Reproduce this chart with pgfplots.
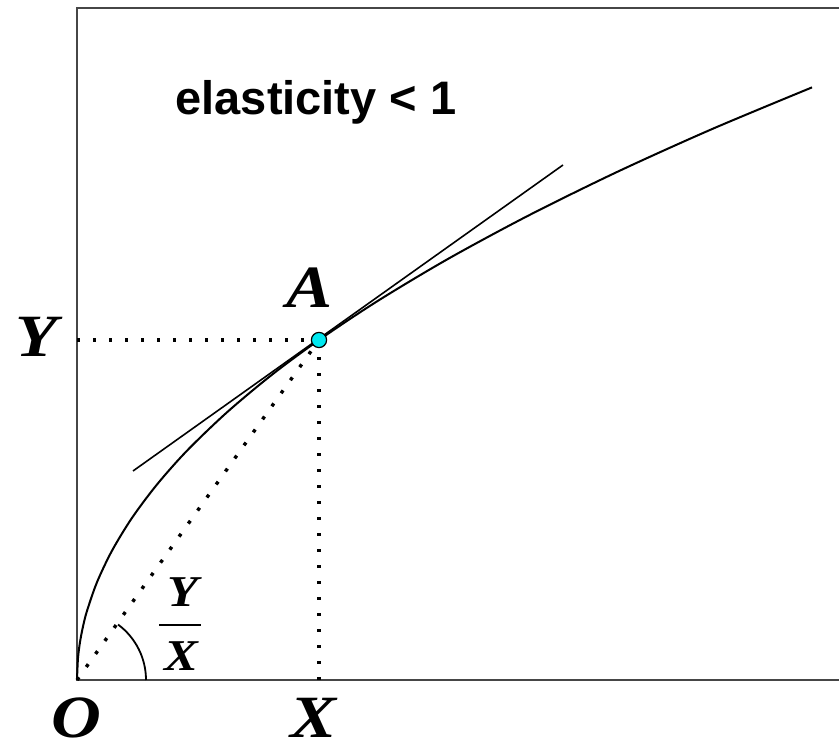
\documentclass[border=0pt]{standalone}
\usepackage{fontspec}
\usepackage{pgfplots}
\pgfplotsset{compat=1.18}
\setmainfont{Liberation Serif}
\newfontfamily\arialfont{Liberation Sans}
\definecolor{pointfill}{RGB}{0,232,240}
\definecolor{frameline}{RGB}{70,70,70}

\begin{document}
\begin{tikzpicture}
% page frame (1 unit = 0.5pt)
\useasboundingbox (-38.5pt,-34pt) rectangle (381pt,340pt);
\begin{axis}[
  at={(0,0)}, anchor=origin,
  x=0.5pt, y=0.5pt,
  xmin=0, xmax=762, ymin=0, ymax=672,
  hide axis, clip=false,
]
% frame: left, bottom and top edges
\draw[frameline, line width=0.75pt] (axis cs:762,672) -- (axis cs:0,672) -- (axis cs:0,0) -- (axis cs:762,0);

% dotted guides to point A and the ray from the origin
\addplot[black, line width=1.7pt, dash pattern=on 1.7pt off 6.3pt, forget plot]
  coordinates {(0,340) (242,340)};
\addplot[black, line width=1.7pt, dash pattern=on 1.7pt off 6.3pt, forget plot]
  coordinates {(242,0) (242,340)};
\addplot[black, line width=1.7pt, dash pattern=on 1.7pt off 6.3pt, forget plot]
  coordinates {(0,0) (242,340)};

% angle arc at the origin
\draw[black, line width=0.9pt] (axis cs:69,0) arc[start angle=0, end angle=53.5, radius=34.5pt];

% the curve
\addplot[black, line width=1pt, smooth] coordinates {
  (0,0) (1,21.9) (3,37.9) (6,53.5) (10,69.1) (20,97.8) (35,129.3)
  (55,162.1) (80,195.5) (110,229.3) (150,267.7) (195,305.3) (242,340)
  (300,378.6) (370,420.5) (450,463.7) (540,508.0) (635,550.9) (735,592.6)
};

% tangent line at A
\addplot[black, line width=0.8pt] coordinates {(56,209) (486,515)};

% point A
\addplot[only marks, mark=*, mark size=3.8pt,
  mark options={fill=pointfill, draw=black, line width=0.6pt}]
  coordinates {(242,340)};

% labels
\node[font=\arialfont\bfseries\fontsize{23.5}{23.5}\selectfont, anchor=base]
  at (axis cs:239,565) {elasticity < 1};
\node[font=\bfseries\itshape\fontsize{30}{30}\selectfont, xscale=1.15] at (axis cs:233,392) {A};
\node[font=\bfseries\itshape\fontsize{30}{30}\selectfont, xscale=1.15] at (axis cs:-40,343) {Y};
\node[font=\bfseries\itshape\fontsize{30}{30}\selectfont, xscale=1.15] at (axis cs:-1,-38) {O};
\node[font=\bfseries\itshape\fontsize{30}{30}\selectfont, xscale=1.15] at (axis cs:237,-38) {X};
\node[font=\bfseries\itshape\fontsize{22}{22}\selectfont, xscale=1.15] at (axis cs:106,88) {Y};
\node[font=\bfseries\itshape\fontsize{22}{22}\selectfont, xscale=1.15] at (axis cs:104,24) {X};
\draw[black, line width=0.6pt] (axis cs:82,55) -- (axis cs:124,55);
\end{axis}
\end{tikzpicture}
\end{document}
